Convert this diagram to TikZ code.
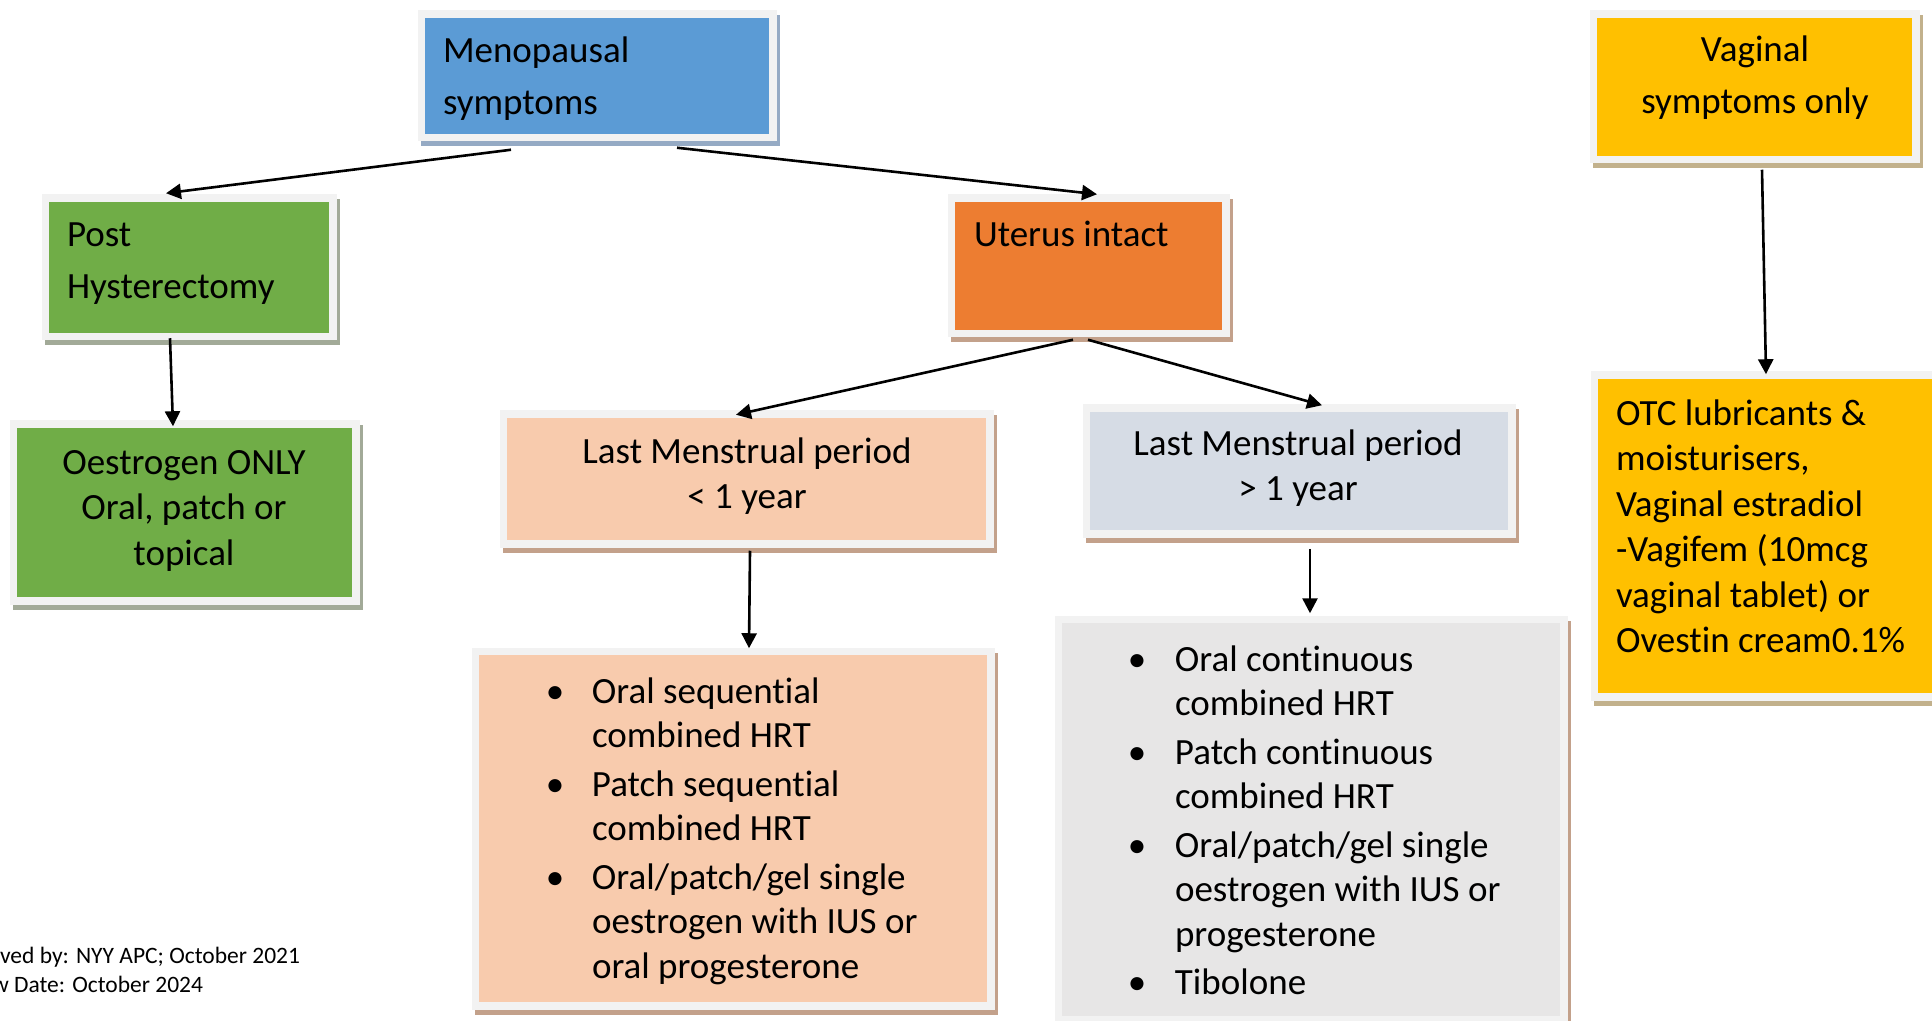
\documentclass[tikz,border=0pt]{standalone}
\usepackage{fontspec}
\setmainfont{Carlito}[Ligatures={NoCommon}]
\usetikzlibrary{arrows.meta,calc}
\definecolor{framec}{HTML}{F2F2F2}
\definecolor{blueF}{HTML}{5B9BD5}
\definecolor{blueS}{HTML}{95AAC4}
\definecolor{greenF}{HTML}{70AD47}
\definecolor{greenS}{HTML}{A2AA98}
\definecolor{orangeF}{HTML}{ED7D31}
\definecolor{tanS}{HTML}{C3A18B}
\definecolor{peachF}{HTML}{F8CBAD}
\definecolor{greyblueF}{HTML}{D6DCE5}
\definecolor{greyF}{HTML}{E7E6E6}
\definecolor{goldF}{HTML}{FFC000}
\definecolor{goldS}{HTML}{C2B18C}
\tikzset{
  box/.style 2 args={fill=#1, draw=framec, line width=3.75pt, inner sep=0pt, outer sep=0pt,
    preaction={draw=#2, fill=#2, line width=3.75pt, transform canvas={xshift=1.5pt, yshift=-2.5pt}}},
  txt/.style={inner sep=0pt, outer sep=0pt, font=\fontsize{18.5pt}{22.75pt}\selectfont},
  txtlist/.style={inner sep=0pt, outer sep=0pt, font=\fontsize{18.5pt}{22.25pt}\selectfont},
  txttop/.style={inner sep=0pt, outer sep=0pt, font=\fontsize{18.5pt}{26pt}\selectfont},
  foot/.style={inner sep=0pt, outer sep=0pt, font=\fontsize{11.75pt}{14.5pt}\selectfont},
  arr/.style={draw=black, line width=1.3pt, -{Triangle[length=7.5pt, width=7.5pt]}}
}
\newcommand{\bul}{\makebox[10pt][c]{\textbullet}}
\begin{document}
\begin{tikzpicture}[x=0.5pt, y=-0.5pt]
\useasboundingbox (0,0) rectangle (1932,1021);
\clip (0,0) rectangle (1932,1021);
\fill[white] (0,0) rectangle (1932,1021);

% boxes
\node[box={blueF}{blueS}, minimum width=175.75pt, minimum height=61.75pt] (meno) at (597,76) {};
\node[box={greenF}{greenS}, minimum width=143.75pt, minimum height=69.25pt] (post) at (189,267.5) {};
\node[box={greenF}{greenS}, minimum width=171.25pt, minimum height=88.25pt] (oest) at (184.5,512.5) {};
\node[box={orangeF}{tanS}, minimum width=137.25pt, minimum height=67.75pt] (uter) at (1088.5,266) {};
\node[box={peachF}{tanS}, minimum width=243.25pt, minimum height=64.75pt] (lmpa) at (746.5,479) {};
\node[box={greyblueF}{tanS}, minimum width=212.75pt, minimum height=62.75pt] (lmpb) at (1299,471) {};
\node[box={peachF}{tanS}, minimum width=257.75pt, minimum height=177.25pt] (lista) at (733,828.5) {};
\node[box={greyF}{tanS}, minimum width=252.75pt, minimum height=200.25pt] (listb) at (1311,819.5) {};
\node[box={goldF}{goldS}, minimum width=161.25pt, minimum height=72.75pt] (vag) at (1754.5,87) {};
\node[box={goldF}{goldS}, minimum width=184.75pt, minimum height=160.75pt] (otc) at (1779,536) {};

% texts
\node[txttop, anchor=base west] (tmeno) at (443,63) {\begin{tabular}[t]{@{}l@{}}Menopausal\\symptoms\end{tabular}};
\node[txttop, anchor=base west] (tpost) at (67,247) {\begin{tabular}[t]{@{}l@{}}Post\\Hysterectomy\end{tabular}};
\node[txt, anchor=base] (toest) at (184,474) {\begin{tabular}[t]{@{}c@{}}Oestrogen ONLY\\Oral, patch or\\topical\end{tabular}};
\node[txttop, anchor=base west] (tuter) at (974,247) {Uterus intact};
\node[txt, anchor=base] (tlmpa) at (747,463) {\begin{tabular}[t]{@{}c@{}}Last Menstrual period\\< 1 year\end{tabular}};
\node[txt, anchor=base] (tlmpb) at (1298,455) {\begin{tabular}[t]{@{}c@{}}Last Menstrual period\\> 1 year\end{tabular}};
\node[txttop, anchor=base] (tvag) at (1755,62) {\begin{tabular}[t]{@{}c@{}}Vaginal\\symptoms only\end{tabular}};
\node[txt, anchor=base west] (totc) at (1616,425) {\begin{tabular}[t]{@{}l@{}}OTC lubricants \&\\moisturisers,\\Vaginal estradiol\\-Vagifem (10mcg\\vaginal tablet) or\\Ovestin cream0.1\%\end{tabular}};
\node[txtlist, anchor=base west] (tlista) at (545,703) {\begin{tabular}[t]{@{}p{23.5pt}@{}l@{}}
\bul & Oral sequential\\
     & combined HRT\\[2pt]
\bul & Patch sequential\\
     & combined HRT\\[2pt]
\bul & Oral/patch/gel single\\
     & oestrogen with IUS or\\
     & oral progesterone
\end{tabular}};
\node[txtlist, anchor=base west] (tlistb) at (1127,671) {\begin{tabular}[t]{@{}p{24pt}@{}l@{}}
\bul & Oral continuous\\
     & combined HRT\\[2pt]
\bul & Patch continuous\\
     & combined HRT\\[2pt]
\bul & Oral/patch/gel single\\
     & oestrogen with IUS or\\
     & progesterone\\[2pt]
\bul & Tibolone
\end{tabular}};
\node[foot, anchor=base east] (fa) at (300,963) {Approved by: NYY APC; October 2021};
\node[foot, anchor=base east] (fb) at (203,992) {Review Date: October 2024};

% arrows
\draw[arr] ($(meno.south)+(-86,12)$) -- ($(post.north)+(-23,-5)$);
\draw[arr] ($(meno.south)+(80,10)$) -- ($(uter.north)+(8.5,-4)$);
\draw[arr] ($(post.south)+(-19,1.5)$) -- ($(oest.north)+(-11.5,2)$);
\draw[arr] ($(uter.south)+(-15.5,6)$) -- ($(lmpa.north)+(-10.5,0.5)$);
\draw[arr] ($(uter.south)+(-0.5,6)$) -- ($(lmpb.north)+(23,-3)$);
\draw[arr] ($(lmpa.south)+(3.5,7)$) -- ($(lista.north)+(16,-3)$);
\draw[arr] ($(lmpb.south)+(11,15)$) -- ($(listb.north)+(-1,-6)$);
\draw[arr] ($(vag.south)+(7.5,10)$) -- ($(otc.north)+(-13,-1)$);
\end{tikzpicture}
\end{document}
